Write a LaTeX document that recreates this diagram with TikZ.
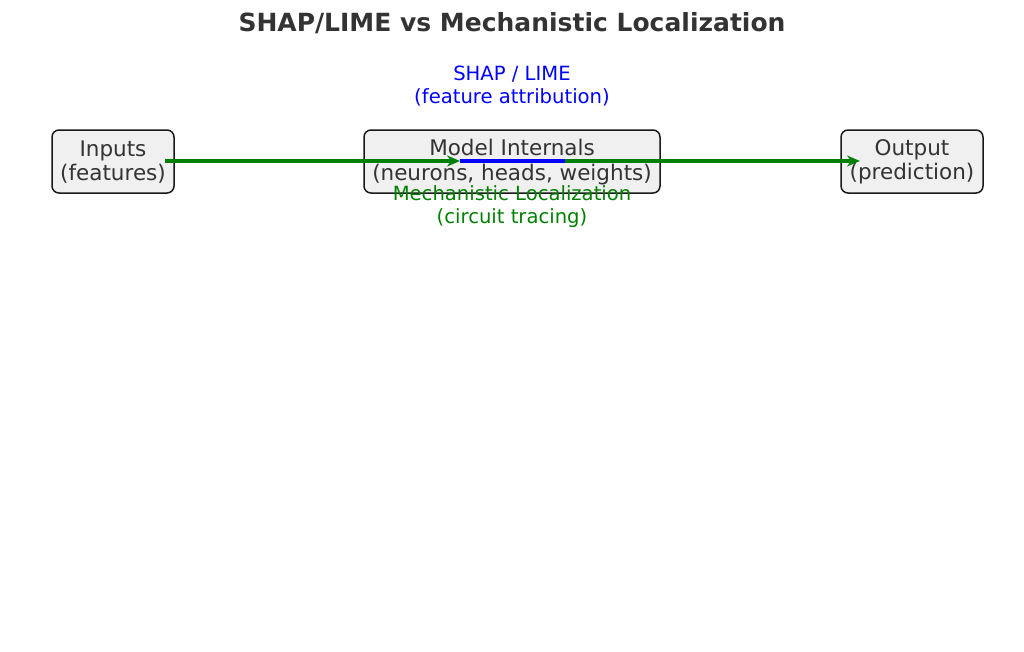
\documentclass[tikz,border=0pt]{standalone}
\usepackage{fontspec}
\setmainfont{DejaVu Sans}
\usetikzlibrary{arrows.meta}
\definecolor{txt}{HTML}{333333}
\definecolor{boxfill}{HTML}{F0F0F0}
\definecolor{mplgreen}{HTML}{008000}
\tikzset{
  blk/.style={draw=black!90, line width=1.5pt, rounded corners=7pt, fill=boxfill},
  btxt/.style={text=txt, font=\fontsize{21.5}{24.5}\selectfont, align=center},
  lbl/.style={font=\fontsize{19.6}{23}\selectfont, align=center},
  conn/.style={line width=3.2pt, -{Stealth[length=13pt,width=11pt]}},
}
\begin{document}
\begin{tikzpicture}[x=1pt,y=-1pt]
\useasboundingbox (0,0) rectangle (1024,651);
\node[font=\bfseries\fontsize{25}{30}\selectfont, text=txt] (title) at (512,23) {SHAP/LIME vs Mechanistic Localization};
\draw[blk] (52,130) rectangle (174,193);
\draw[blk] (364,130) rectangle (660,193);
\draw[blk] (841,130) rectangle (983,193);
\node[btxt] (inp) at (113,162) {Inputs\\(features)};
\node[btxt] (mod) at (512,162) {Model Internals\\(neurons, heads, weights)};
\node[btxt] (out) at (912,162) {Output\\(prediction)};
\coordinate (a1) at (165,161);
\coordinate (a2) at (460,161);
\coordinate (b1) at (565,161);
\coordinate (b2) at (860,161);
\draw[blue, line width=3.2pt] (a2) -- (b1);
\draw[conn, mplgreen] (a1) -- (a2);
\draw[conn, mplgreen] (b1) -- (b2);
\node[lbl, text=blue] (shap) at (512,86) {SHAP / LIME\\(feature attribution)};
\node[lbl, text=mplgreen] (mech) at (512,206.5) {Mechanistic Localization\\(circuit tracing)};
\end{tikzpicture}
\end{document}
